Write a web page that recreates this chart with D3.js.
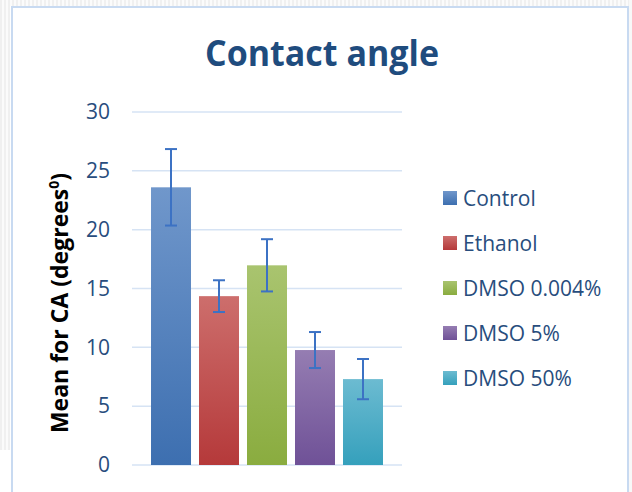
<!DOCTYPE html>
<html>
<head>
<meta charset="utf-8">
<script src="https://cdn.jsdelivr.net/npm/d3@7/dist/d3.min.js"></script>
<style>
  html, body { margin: 0; padding: 0; background: #ffffff; }
  svg { display: block; }
</style>
</head>
<body>
<svg id="chart" width="632" height="492"></svg>
<script>
const categories = ["Control", "Ethanol", "DMSO 0.004%", "DMSO 5%", "DMSO 50%"];
const means = [23.6, 14.35, 16.97, 9.77, 7.3];
const errors = [3.25, 1.35, 2.22, 1.53, 1.71];
const yTicks = [0, 5, 10, 15, 20, 25, 30];
const titleText = "Contact angle";

const colorsTop = ["#7097cb", "#cd6e6c", "#a9c46f", "#957db2", "#6cbbd1"];
const colorsBottom = ["#3d6fb0", "#b5393a", "#8aac3f", "#6f5197", "#35a0bc"];

const svg = d3.select("#chart");
const defs = svg.append("defs");

// hatched background pattern (outside chart frame)
const pat = defs.append("pattern").attr("id", "hatch").attr("patternUnits", "userSpaceOnUse")
  .attr("width", 4).attr("height", 4);
pat.append("rect").attr("width", 4).attr("height", 4).attr("fill", "#fbfbfb");
pat.append("rect").attr("width", 2).attr("height", 4).attr("fill", "#f0f0f0");

svg.append("rect").attr("x", 0).attr("y", 0).attr("width", 632).attr("height", 6).attr("fill", "url(#hatch)");
svg.append("rect").attr("x", 0).attr("y", 0).attr("width", 10).attr("height", 450).attr("fill", "url(#hatch)");
svg.append("rect").attr("x", 629).attr("y", 0).attr("width", 3).attr("height", 492).attr("fill", "#f8f8f8");

// chart frame
svg.append("path")
  .attr("d", "M12,492 L12,7 L628,7 L628,492")
  .attr("fill", "#ffffff")
  .attr("stroke", "#c8daf1")
  .attr("stroke-width", 2);

categories.forEach((c, i) => {
  const g = defs.append("linearGradient").attr("id", "grad" + i)
    .attr("x1", 0).attr("y1", 0).attr("x2", 0).attr("y2", 1);
  g.append("stop").attr("offset", "0%").attr("stop-color", colorsTop[i]);
  g.append("stop").attr("offset", "100%").attr("stop-color", colorsBottom[i]);
});

const plotLeft = 132, plotRight = 402;
const y = d3.scaleLinear().domain([0, 30]).range([465, 112]);
const x = d3.scaleBand().domain(categories).range([plotLeft, plotRight])
  .paddingInner(1 / 6).paddingOuter(0.396);

// gridlines
svg.append("g").selectAll("line").data(yTicks).join("line")
  .attr("x1", plotLeft).attr("x2", plotRight)
  .attr("y1", d => y(d)).attr("y2", d => y(d))
  .attr("stroke", "#d6e3f4").attr("stroke-width", 1.5);

// y axis labels
const yAxis = d3.axisLeft(y).tickValues(yTicks).tickSize(0).tickPadding(0);
const ya = svg.append("g").attr("transform", "translate(110,0)").call(yAxis);
ya.select(".domain").remove();
ya.selectAll("text")
  .attr("font-family", "'Open Sans', sans-serif")
  .attr("font-size", 21)
  .attr("fill", "#284d7d");

// bars
svg.append("g").selectAll("rect").data(categories).join("rect")
  .attr("x", d => x(d))
  .attr("width", x.bandwidth())
  .attr("y", (d, i) => y(means[i]))
  .attr("height", (d, i) => y(0) - y(means[i]))
  .attr("fill", (d, i) => "url(#grad" + i + ")");

// error bars
const eb = svg.append("g").attr("stroke", "#3c72c4").attr("stroke-width", 2).attr("fill", "none");
categories.forEach((c, i) => {
  const cx = x(c) + x.bandwidth() / 2;
  const hi = y(means[i] + errors[i]), lo = y(means[i] - errors[i]);
  eb.append("line").attr("x1", cx).attr("x2", cx).attr("y1", hi).attr("y2", lo);
  eb.append("line").attr("x1", cx - 6).attr("x2", cx + 6).attr("y1", hi).attr("y2", hi);
  eb.append("line").attr("x1", cx - 6).attr("x2", cx + 6).attr("y1", lo).attr("y2", lo);
});

// title
svg.append("text")
  .attr("x", 322).attr("y", 66)
  .attr("text-anchor", "middle")
  .attr("font-family", "'Open Sans', sans-serif")
  .attr("font-weight", "bold")
  .attr("font-size", 36)
  .attr("fill", "#1f4c7e")
  .attr("textLength", 234)
  .attr("lengthAdjust", "spacingAndGlyphs")
  .text(titleText);

// y axis title
const yt = svg.append("text")
  .attr("transform", "translate(68,303) rotate(-90)")
  .attr("text-anchor", "middle")
  .attr("font-family", "'Open Sans', sans-serif")
  .attr("font-weight", "bold")
  .attr("font-size", 23)
  .attr("fill", "#000000");
yt.append("tspan").text("Mean for CA (degrees");
yt.append("tspan").attr("dy", -9).attr("font-size", 14).text("0");
yt.append("tspan").attr("dy", 9).text(")");

// legend
const legend = svg.append("g");
const legY = d3.scalePoint().domain(categories).range([198, 378]);
legend.selectAll("rect").data(categories).join("rect")
  .attr("x", 443).attr("y", d => legY(d) - 7)
  .attr("width", 14).attr("height", 14)
  .attr("fill", (d, i) => "url(#grad" + i + ")");
legend.selectAll("text").data(categories).join("text")
  .attr("x", 463).attr("y", d => legY(d) + 7.5)
  .attr("font-family", "'Open Sans', sans-serif")
  .attr("font-size", 21)
  .attr("fill", "#284d7d")
  .text(d => d);
</script>
</body>
</html>
